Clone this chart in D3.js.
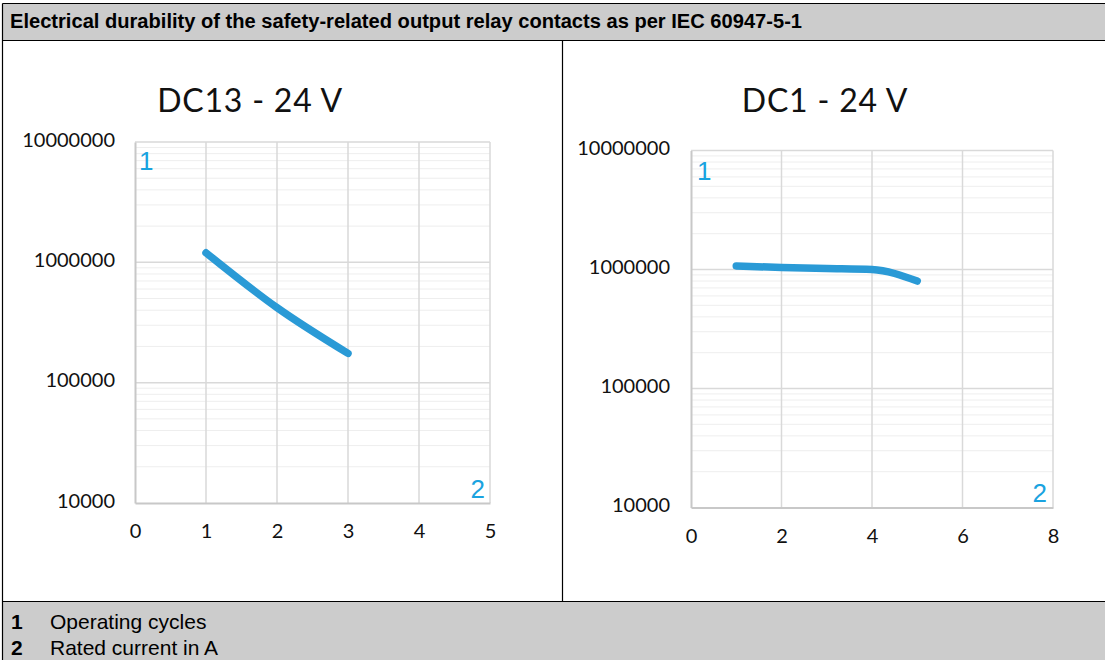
<!DOCTYPE html>
<html>
<head>
<meta charset="utf-8">
<script src="https://cdn.jsdelivr.net/npm/d3@7"></script>
<style>
  body { margin: 0; background: #fff; }
  svg { display: block; }
</style>
</head>
<body>
<div id="chart"></div>
<script>
// data
const headerText = "Electrical durability of the safety-related output relay contacts as per IEC 60947-5-1";
const legendKeys = ["1", "2"];
const legendLabels = ["Operating cycles", "Rated current in A"];

const dc13Title = "DC13 - 24 V";
const dc13Current = [1, 2, 3];
const dc13Cycles = [1200000, 420000, 175000];
const dc13XTicks = [0, 1, 2, 3, 4, 5];

const dc1Title = "DC1 - 24 V";
const dc1Current = [1, 2, 3, 4, 5];
const dc1Cycles = [1070000, 1040000, 1020000, 1000000, 800000];
const dc1XTicks = [0, 2, 4, 6, 8];

const yTicks = [10000, 100000, 1000000, 10000000];

const width = 1105;
const height = 660;
const lineColor = "#2a9ad6";
const keyColor = "#1aa3e0";

const svg = d3.select("#chart").append("svg")
    .attr("width", width)
    .attr("height", height);

// table frame
svg.append("rect").attr("x", 2.5).attr("y", 3.5).attr("width", width).attr("height", 37)
    .attr("fill", "#cccccc");
svg.append("rect").attr("x", 2.5).attr("y", 601.5).attr("width", width).attr("height", 70)
    .attr("fill", "#cccccc");
const borders = [
    [2.5, 3.5, width, 3.5],
    [2.5, 40.5, width, 40.5],
    [2.5, 601.5, width, 601.5],
    [2.5, 3.5, 2.5, height],
    [562.5, 40.5, 562.5, 601.5]
];
svg.selectAll("line.border")
    .data(borders)
    .join("line")
    .attr("class", "border")
    .attr("x1", d => d[0]).attr("y1", d => d[1])
    .attr("x2", d => d[2]).attr("y2", d => d[3])
    .attr("stroke", "#000").attr("stroke-width", 1.2);

svg.append("text")
    .attr("x", 10).attr("y", 28)
    .style("font-family", "Liberation Sans, Arial, sans-serif")
    .style("font-weight", "bold")
    .style("font-size", "20px")
    .attr("textLength", 792)
    .attr("lengthAdjust", "spacingAndGlyphs")
    .text(headerText);

const legend = svg.selectAll("g.legend")
    .data(legendKeys)
    .join("g")
    .attr("class", "legend")
    .attr("transform", (d, i) => `translate(0, ${629 + i * 26})`)
    .style("font-family", "Liberation Sans, Arial, sans-serif")
    .style("font-size", "21px");
legend.append("text").attr("x", 11).style("font-weight", "bold").text(d => d);
legend.append("text").attr("x", 50).text((d, i) => legendLabels[i]);

drawChart({
    title: dc13Title, titleX: 250, xs: dc13Current, ys: dc13Cycles, xTicks: dc13XTicks,
    left: 135, right: 490, top: 142, bottom: 503, labelRight: 115,
    key1: [139, 170], key2: [485, 498]
});
drawChart({
    title: dc1Title, titleX: 825, xs: dc1Current, ys: dc1Cycles, xTicks: dc1XTicks,
    left: 691, right: 1053, top: 150.5, bottom: 507.5, labelRight: 670,
    key1: [697, 180], key2: [1047, 502]
});

function drawChart(c) {
    const g = svg.append("g");
    const font = "Lato, 'Open Sans', sans-serif";

    const x = d3.scaleLinear()
        .domain(d3.extent(c.xTicks))
        .range([c.left, c.right]);
    const y = d3.scaleLog()
        .domain([yTicks[0], yTicks[yTicks.length - 1]])
        .range([c.bottom, c.top]);

    // minor grid lines at 2..9 of every decade
    const minor = [];
    yTicks.slice(0, -1).forEach(t => {
        for (let k = 2; k <= 9; k++) minor.push(t * k);
    });
    g.selectAll("line.minor")
        .data(minor)
        .join("line")
        .attr("class", "minor")
        .attr("x1", c.left).attr("x2", c.right)
        .attr("y1", d => y(d)).attr("y2", d => y(d))
        .attr("stroke", "#eeeeee").attr("stroke-width", 1);

    g.selectAll("line.hmajor")
        .data(yTicks.slice(1))
        .join("line")
        .attr("class", "hmajor")
        .attr("x1", c.left).attr("x2", c.right)
        .attr("y1", d => y(d)).attr("y2", d => y(d))
        .attr("stroke", "#d9d9d9").attr("stroke-width", 1.5);

    g.selectAll("line.vmajor")
        .data(c.xTicks.slice(1))
        .join("line")
        .attr("class", "vmajor")
        .attr("y1", c.top).attr("y2", c.bottom)
        .attr("x1", d => x(d)).attr("x2", d => x(d))
        .attr("stroke", "#d9d9d9").attr("stroke-width", 1.5);

    // axes
    const axisX = d3.axisBottom(x).tickValues(c.xTicks).tickFormat(d3.format("d")).tickSize(0).tickPadding(21);
    const gx = g.append("g")
        .attr("transform", `translate(0, ${c.bottom})`)
        .call(axisX);
    gx.select(".domain").attr("stroke", "#c8c8c8").attr("stroke-width", 2);
    gx.selectAll("text").style("font-family", font).style("font-size", "20px").attr("fill", "#111");

    const axisY = d3.axisLeft(y).tickValues(yTicks).tickFormat(d3.format("d")).tickSize(0).tickPadding(c.left - c.labelRight);
    const gy = g.append("g")
        .attr("transform", `translate(${c.left}, 0)`)
        .call(axisY);
    gy.select(".domain").attr("stroke", "#c8c8c8").attr("stroke-width", 2);
    gy.selectAll("text").style("font-family", font).style("font-size", "20px").attr("fill", "#111")
        .attr("dy", "0.2em");

    g.append("text")
        .attr("x", c.titleX).attr("y", 112)
        .attr("text-anchor", "middle")
        .style("font-family", font)
        .style("font-size", "32px")
        .style("letter-spacing", "0.8px")
        .attr("fill", "#111")
        .text(c.title);

    // the curve
    const line = d3.line()
        .x(d => x(d[0]))
        .y(d => y(d[1]))
        .curve(d3.curveMonotoneX);
    g.append("path")
        .datum(d3.zip(c.xs, c.ys))
        .attr("d", line)
        .attr("fill", "none")
        .attr("stroke", lineColor)
        .attr("stroke-width", 7.5)
        .attr("stroke-linecap", "round")
        .attr("stroke-linejoin", "round");

    // key numbers
    g.append("text")
        .attr("x", c.key1[0]).attr("y", c.key1[1])
        .style("font-family", "Liberation Sans, Arial, sans-serif")
        .style("font-size", "26px")
        .attr("fill", keyColor)
        .text(legendKeys[0]);
    g.append("text")
        .attr("x", c.key2[0]).attr("y", c.key2[1])
        .attr("text-anchor", "end")
        .style("font-family", "Liberation Sans, Arial, sans-serif")
        .style("font-size", "26px")
        .attr("fill", keyColor)
        .text(legendKeys[1]);
}
</script>
</body>
</html>
